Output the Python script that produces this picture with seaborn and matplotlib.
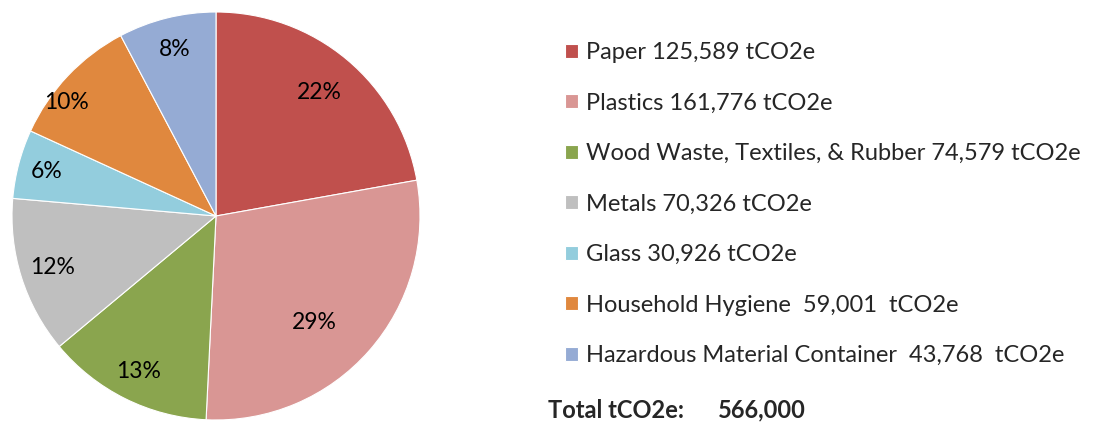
import matplotlib
matplotlib.use("Agg")
import matplotlib.pyplot as plt
import numpy as np
import seaborn as sns

sns.set_theme(style="white")
plt.rcParams["font.family"] = ["Lato", "DejaVu Sans"]

categories = [
    "Paper 125,589 tCO2e",
    "Plastics 161,776 tCO2e",
    "Wood Waste, Textiles, & Rubber 74,579 tCO2e",
    "Metals 70,326 tCO2e",
    "Glass 30,926 tCO2e",
    "Household Hygiene  59,001  tCO2e",
    "Hazardous Material Container  43,768  tCO2e",
]
emissions = [125589, 161776, 74579, 70326, 30926, 59001, 43768]
pct_labels = ["22%", "29%", "13%", "12%", "6%", "10%", "8%"]
colors = ["#C0504D", "#D99694", "#8AA54E", "#BFBFBF", "#93CDDD", "#E0883E", "#95ABD4"]
total_text = ("Total tCO2e:", "566,000")

# placement of each percentage label: radius (fraction of pie radius)
# and a small angular nudge (degrees) away from the wedge's midline
label_radius = [0.79, 0.71, 0.85, 0.84, 0.86, 0.92, 0.84]
label_nudge = [0, -6, 0, 0, 0, 6, 0]

fig = plt.figure(figsize=(10.98, 4.23), dpi=100)
ax = fig.add_axes([12 / 1098, 3 / 423, 408 / 1098, 408 / 423])

label_iter = iter(pct_labels)
wedges, texts, autotexts = ax.pie(
    emissions,
    colors=colors,
    startangle=90,
    counterclock=False,
    autopct=lambda p: next(label_iter),
    pctdistance=0.8,
    wedgeprops=dict(edgecolor="white", linewidth=0.8),
    textprops=dict(fontsize=16.5, color="black"),
)
for w, t, r, d in zip(wedges, autotexts, label_radius, label_nudge):
    mid = np.deg2rad((w.theta1 + w.theta2) / 2 + d)
    t.set_position((r * np.cos(mid), r * np.sin(mid)))

ax.set_xlim(-1, 1)
ax.set_ylim(-1, 1)
ax.set_aspect("equal")

fig.legend(
    wedges,
    categories,
    loc="upper left",
    bbox_to_anchor=(565 / 1098, 1 - 42 / 423),
    frameon=False,
    fontsize=17,
    handlelength=0.55,
    handleheight=0.55,
    handletextpad=0.34,
    labelspacing=1.25,
    borderaxespad=0,
    borderpad=0,
)

fig.text(548 / 1098, 1 - 410 / 423, total_text[0], fontsize=17, fontweight="bold",
         va="center", ha="left")
fig.text(718 / 1098, 1 - 410 / 423, total_text[1], fontsize=17, fontweight="bold",
         va="center", ha="left")

fig.savefig("out.png", dpi=100)
